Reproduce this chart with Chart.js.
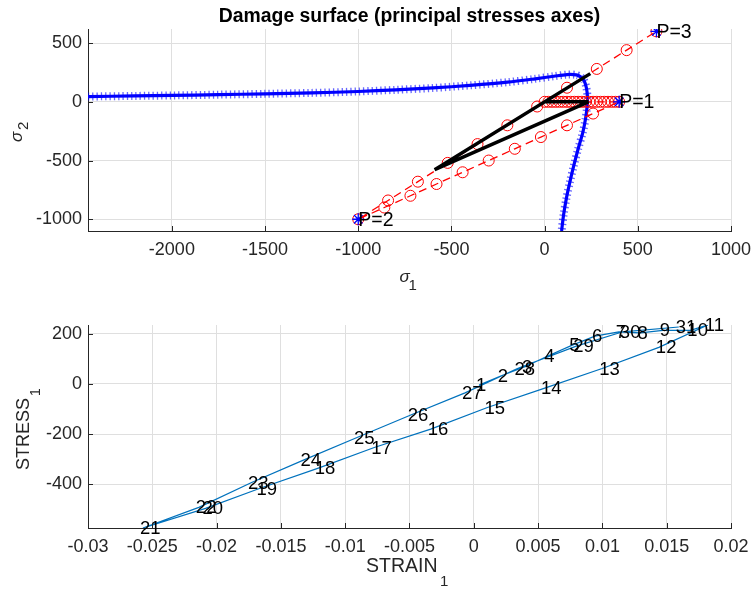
<!DOCTYPE html>
<html><head><meta charset="utf-8">
<script src="https://cdn.jsdelivr.net/npm/chart.js@4"></script>
<style>
html,body{margin:0;padding:0;background:#fff;}
#wrap{position:relative;width:751px;height:590px;overflow:hidden;}
canvas{position:absolute;left:0;}
</style></head><body>
<div id="wrap">
<canvas id="c1" width="751" height="295" style="top:0px"></canvas>
<canvas id="c2" width="751" height="295" style="top:295px"></canvas>
</div>
<script>
// ---------- DATA ----------
const titleTop = 'Damage surface (principal stresses axes)';
// damage surface (sigma1, sigma2)
const surfS1 = [-2450, -2200, -2000, -1750, -1500, -1250, -1000, -800, -600, -400, -200, -50, 50, 120, 170, 195, 212, 224, 230, 228, 220, 205, 180, 157, 136, 117, 102, 91];
const surfS2 = [45, 50, 54, 61, 68, 76, 88, 102, 118, 140, 167, 196, 218, 232, 229, 210, 180, 120, 40, -40, -140, -260, -400, -540, -680, -820, -960, -1100];
// imposed load path
const loadS1 = [0, 20, 40, 60, 80, 100, 120, 140, 160, 180, 200, 220, 240, 260, 280, 300, 320, 340, 360, 380, 400,
                260, 120, -20, -160, -300, -440, -580, -720, -860, -1000,
                -840, -680, -520, -360, -200, -40, 120, 280, 440, 600];
const loadS2 = [0, 0, 0, 0, 0, 0, 0, 0, 0, 0, 0, 0, 0, 0, 0, 0, 0, 0, 0, 0, 0,
                -100, -200, -300, -400, -500, -600, -700, -800, -900, -1000,
                -840, -680, -520, -360, -200, -40, 120, 280, 440, 600];
// computed stress path
const respS1 = [0, 235, -590, 245];
const respS2 = [0, 0, -578, 240];
// load points
const pS1 = [400, -1000, 600];
const pS2 = [0, -1000, 600];
const pLabels = ['P=1', 'P=2', 'P=3'];
// top axes ticks
const topXTicks = [-2000, -1500, -1000, -500, 0, 500, 1000];
const topXLabels = ['-2000', '-1500', '-1000', '-500', '0', '500', '1000'];
const topYTicks = [-1000, -500, 0, 500];
const topYLabels = ['-1000', '-500', '0', '500'];

// stress-strain history
const stepLabels = ['1','2','3','4','5','6','7','8','9','10','11','12','13','14','15','16','17','18','19','20','21','22','23','24','25','26','27','28','29','30','31'];
const strain1 = [0.00041, 0.00209, 0.00398, 0.00571, 0.00766, 0.00942, 0.01128, 0.01296, 0.01470, 0.01684, 0.0182,
                 0.01439, 0.00998, 0.00546, 0.00106, -0.00335, -0.00774, -0.01214, -0.01667, -0.02086, -0.02573,
                 -0.02138, -0.01732, -0.01325, -0.00908, -0.00490, -0.00068, 0.00339, 0.00797, 0.01159, 0.01594];
const stress1 = [-5, 31, 68, 110, 154, 190, 207, 203, 213, 213, 234,
                 145, 61, -18, -94, -180, -253, -336, -416, -495, -573,
                 -491, -393, -303, -213, -124, -36, 61, 150, 207, 226];
const botXTicks = [-0.03, -0.025, -0.02, -0.015, -0.01, -0.005, 0, 0.005, 0.01, 0.015, 0.02];
const botXLabels = ['-0.03', '-0.025', '-0.02', '-0.015', '-0.01', '-0.005', '0', '0.005', '0.01', '0.015', '0.02'];
const botYTicks = [-400, -200, 0, 200];
const botYLabels = ['-400', '-200', '0', '200'];

// ---------- STYLE ----------
const FONT = "'Liberation Sans', Arial, Helvetica, sans-serif";
const AX = '#262626';
const GRID = '#dfdfdf';
const zip = (xs, ys) => xs.map((v, i) => ({x: v, y: ys[i]}));

function makeAxis(pos, min, max, ticks, labels, size, pad) {
  return {
    type: 'linear', position: pos, min: min, max: max,
    afterBuildTicks: s => { s.ticks = ticks.map(v => ({value: v})); },
    afterFit: s => {
      if (pos === 'left') { s.width = size; s.paddingTop = 0; s.paddingBottom = 0; }
      else { s.height = size; s.paddingLeft = 0; s.paddingRight = 0; }
    },
    grid: {color: GRID, lineWidth: 1, drawTicks: false},
    border: {display: true, color: AX, width: 1},
    ticks: {color: AX, font: {family: FONT, size: 18}, padding: pad, autoSkip: false,
            maxRotation: 0, minRotation: 0, includeBounds: false,
            callback: (v, i) => labels[i]}
  };
}

function inwardTicks(chart) {
  const {ctx, chartArea: a} = chart;
  const x = chart.scales.x, y = chart.scales.y;
  ctx.save();
  ctx.strokeStyle = AX; ctx.lineWidth = 1;
  ctx.beginPath();
  x.ticks.forEach(t => {
    const px = Math.round(x.getPixelForValue(t.value)) + 0.5;
    ctx.moveTo(px, a.bottom); ctx.lineTo(px, a.bottom - 5);
  });
  y.ticks.forEach(t => {
    const py = Math.round(y.getPixelForValue(t.value)) + 0.5;
    ctx.moveTo(a.left, py); ctx.lineTo(a.left + 5, py);
  });
  ctx.stroke();
  ctx.restore();
}

const topDeco = {
  id: 'topDeco',
  afterDatasetsDraw(chart) {
    const {ctx} = chart;
    const x = chart.scales.x, y = chart.scales.y;
    ctx.save();
    ctx.fillStyle = '#000';
    ctx.font = `19.5px ${FONT}`;
    ctx.textAlign = 'left'; ctx.textBaseline = 'middle';
    pLabels.forEach((t, i) => ctx.fillText(t, x.getPixelForValue(pS1[i]), y.getPixelForValue(pS2[i]) + 1));
    ctx.restore();
  },
  afterDraw(chart) {
    inwardTicks(chart);
    const {ctx, chartArea: a} = chart;
    const cx = (a.left + a.right) / 2;
    ctx.save();
    ctx.fillStyle = '#000'; ctx.textAlign = 'center'; ctx.textBaseline = 'alphabetic';
    ctx.font = `bold 19.4px ${FONT}`;
    ctx.fillText(titleTop, cx, 21.5);
    ctx.fillStyle = AX; ctx.textAlign = 'left';
    ctx.font = `italic 17px ${FONT}`;
    ctx.fillText('σ', cx - 10, 282);
    ctx.font = `15px ${FONT}`;
    ctx.fillText('1', cx - 1, 290);
    ctx.translate(22, 142); ctx.rotate(-Math.PI / 2);
    ctx.font = `italic 17px ${FONT}`;
    ctx.fillText('σ', 0, 0);
    ctx.font = `15px ${FONT}`;
    ctx.fillText('2', 12, 6);
    ctx.restore();
  }
};

const botDeco = {
  id: 'botDeco',
  afterDatasetsDraw(chart) {
    const {ctx} = chart;
    const pts = chart.getDatasetMeta(0).data;
    ctx.save();
    ctx.fillStyle = '#000';
    ctx.font = `18.5px ${FONT}`;
    ctx.textAlign = 'left'; ctx.textBaseline = 'middle';
    pts.forEach((p, i) => ctx.fillText(stepLabels[i], p.x - 3, p.y + 1));
    ctx.restore();
  },
  afterDraw(chart) {
    inwardTicks(chart);
    const {ctx} = chart;
    ctx.save();
    ctx.fillStyle = AX; ctx.textAlign = 'left'; ctx.textBaseline = 'alphabetic';
    ctx.font = `19.5px ${FONT}`;
    ctx.fillText('STRAIN', 366, 276.5);
    ctx.font = `15px ${FONT}`;
    ctx.fillText('1', 440, 291);
    ctx.translate(28.5, 175); ctx.rotate(-Math.PI / 2);
    ctx.font = `18px ${FONT}`;
    ctx.fillText('STRESS', 0, 0);
    ctx.font = `14px ${FONT}`;
    ctx.fillText('1', 74, 11);
    ctx.restore();
  }
};

const common = {
  responsive: false, animation: false, events: [],
  plugins: {legend: {display: false}, tooltip: {enabled: false}, title: {display: false}}
};

// ---------- TOP CHART ----------
const surfPts = zip(surfS1, surfS2);
new Chart(document.getElementById('c1'), {
  type: 'scatter',
  data: {datasets: [
    {data: zip(pS1, pS2), showLine: false, pointStyle: 'star', pointRadius: 6,
     pointBorderColor: '#0000ff', pointBackgroundColor: '#0000ff', pointBorderWidth: 1.3, order: 0},
    {data: zip(respS1, respS2), showLine: true, borderColor: '#000000', borderWidth: 3.5,
     borderJoinStyle: 'bevel', pointRadius: 0, order: 1},
    {data: zip(loadS1, loadS2), showLine: true, borderColor: '#ff0000', borderWidth: 1.3, borderDash: [8, 5],
     pointStyle: 'circle', pointRadius: 5.5, pointBorderColor: '#ff0000',
     pointBackgroundColor: 'rgba(0,0,0,0)', pointBorderWidth: 1, order: 2},
    {data: surfPts, showLine: true, borderColor: '#0000ff', borderWidth: 3.2, tension: 0.3, pointRadius: 0, order: 3},
    {data: surfPts, showLine: true, borderColor: 'rgba(0,0,255,0.6)', borderWidth: 8, borderDash: [1.3, 3],
     tension: 0.3, pointRadius: 0, order: 4}
  ]},
  options: Object.assign({}, common, {
    layout: {padding: {top: 29, right: 20, left: 0, bottom: 0}},
    scales: {
      x: makeAxis('bottom', -2450, 1000, topXTicks, topXLabels, 64, 8),
      y: makeAxis('left', -1100, 620, topYTicks, topYLabels, 88, 6)
    }
  }),
  plugins: [topDeco]
});

// ---------- BOTTOM CHART ----------
new Chart(document.getElementById('c2'), {
  type: 'scatter',
  data: {datasets: [
    {data: zip(strain1, stress1), showLine: true, borderColor: '#0072BD', borderWidth: 1.2,
     tension: 0, pointRadius: 0}
  ]},
  options: Object.assign({}, common, {
    layout: {padding: {top: 30, right: 20, left: 0, bottom: 0}},
    scales: {
      x: makeAxis('bottom', -0.03, 0.02, botXTicks, botXLabels, 62, 8),
      y: makeAxis('left', -573, 234, botYTicks, botYLabels, 88, 6)
    }
  }),
  plugins: [botDeco]
});
</script>
</body></html>
